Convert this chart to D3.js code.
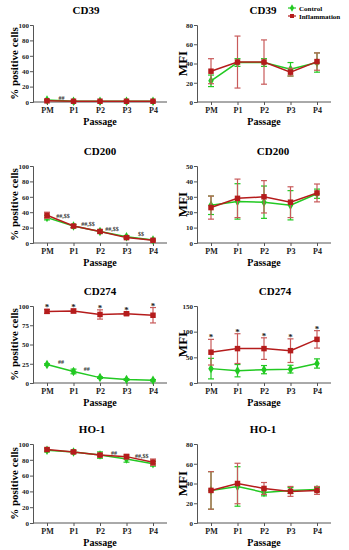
<!DOCTYPE html>
<html>
<head>
<meta charset="utf-8">
<script src="https://cdn.jsdelivr.net/npm/d3@7"></script>
<style>
body{margin:0;background:#fff;}
text{font-family:"Liberation Serif","DejaVu Serif",serif;font-weight:bold;}
</style>
</head>
<body>
<div id="viz"></div>
<script>
// categories
var passages = ['PM','P1','P2','P3','P4'];

// CD39 % positive
var cd39PctCtrl = [2.5, 1, 1, 1, 1];
var cd39PctCtrlErr = [0.5, 0.3, 0.3, 0.3, 0.3];
var cd39PctInfl = [1.5, 1, 1, 1, 1];
var cd39PctInflErr = [0.5, 0.3, 0.3, 0.3, 0.3];
// CD39 MFI
var cd39MfiCtrl = [22, 41, 41, 34, 41];
var cd39MfiCtrlErr = [6, 4, 4, 7, 10];
var cd39MfiInfl = [32, 41.5, 41.5, 31, 42];
var cd39MfiInflErr = [13, 27, 23, 4, 9];

// CD200 % positive
var cd200PctCtrl = [33, 22, 15, 8, 4];
var cd200PctCtrlErr = [3, 2, 2, 1.5, 1];
var cd200PctInfl = [36, 22, 15, 7, 3.5];
var cd200PctInflErr = [4, 2, 2, 1.5, 1];
// CD200 MFI
var cd200MfiCtrl = [24.5, 27, 26.5, 24.5, 32];
var cd200MfiCtrlErr = [6, 11.5, 10.5, 9.5, 3];
var cd200MfiInfl = [23, 29, 30, 26.5, 32.5];
var cd200MfiInflErr = [7.5, 12.5, 10.5, 10, 5.8];

// CD274 % positive
var cd274PctCtrl = [24, 15, 7, 4.5, 3.5];
var cd274PctCtrlErr = [1, 3, 1, 1, 1];
var cd274PctInfl = [93, 93.5, 89, 90, 88];
var cd274PctInflErr = [2.5, 2.5, 6, 2, 10];
// CD274 MFI
var cd274MfiCtrl = [28, 24, 26, 27, 38];
var cd274MfiCtrlErr = [20, 12, 8, 7.5, 9];
var cd274MfiInfl = [60, 67, 67, 63, 85];
var cd274MfiInflErr = [25, 29, 21, 23, 17];

// HO-1 % positive
var ho1PctCtrl = [92, 90, 86, 81, 75];
var ho1PctCtrlErr = [2, 2, 4, 4, 3];
var ho1PctInfl = [93, 90, 86, 84, 77];
var ho1PctInflErr = [2, 2, 2, 3, 4];
// HO-1 MFI
var ho1MfiCtrl = [33, 37, 31, 33, 34];
var ho1MfiCtrlErr = [19, 20, 3.5, 3, 2];
var ho1MfiInfl = [33, 40, 35, 32, 33];
var ho1MfiInflErr = [19, 20.5, 6, 5, 4];

// y ticks
var pctTicks = [0, 20, 40, 60, 80, 100];
var pctTicks274 = [0, 25, 50, 75, 100];
var mfiTicks39 = [0, 20, 40, 60, 80];
var mfiTicks200 = [0, 10, 20, 30, 40, 50];
var mfiTicks274 = [0, 50, 100, 150];
var mfiTicksHO1 = [0, 20, 40, 60, 80];

// significance labels: [position between passages (index), value, text]
var cd39PctMarks = [[0.55, 5, '##']];
var cd200PctMarks = [[0.6, 35, '##,$$'], [1.55, 25, '##,$$'], [2.45, 18, '##,$$'], [3.55, 12, '$$']];
var cd274PctMarks = [[0.53, 27, '##'], [1.5, 18, '##']];
var ho1PctMarks = [[2.53, 89, '##'], [3.58, 85, '##,$$']];

var green = '#22c922', red = '#b51c1c', redErr = '#c85a5a';

var svg = d3.select('#viz').append('svg')
    .attr('width', 349)
    .attr('height', 550);

var rows = [[25, 102], [166, 243], [306, 383], [444, 523]];
var cols = [33, 197];

var panels = [
  {r:0, c:0, tx:53, title:'CD39', ylab:'% positive cells', ticks:pctTicks, ctrl:cd39PctCtrl, ce:cd39PctCtrlErr, infl:cd39PctInfl, ie:cd39PctInflErr, marks:cd39PctMarks},
  {r:0, c:1, tx:66, title:'CD39', ylab:'MFI', ticks:mfiTicks39, ctrl:cd39MfiCtrl, ce:cd39MfiCtrlErr, infl:cd39MfiInfl, ie:cd39MfiInflErr, legend:true},
  {r:1, c:0, tx:67, title:'CD200', ylab:'% positive cells', ticks:pctTicks, ctrl:cd200PctCtrl, ce:cd200PctCtrlErr, infl:cd200PctInfl, ie:cd200PctInflErr, marks:cd200PctMarks},
  {r:1, c:1, tx:76, title:'CD200', ylab:'MFI', ticks:mfiTicks200, ctrl:cd200MfiCtrl, ce:cd200MfiCtrlErr, infl:cd200MfiInfl, ie:cd200MfiInflErr},
  {r:2, c:0, tx:67, title:'CD274', ylab:'% positive cells', ticks:pctTicks274, ctrl:cd274PctCtrl, ce:cd274PctCtrlErr, infl:cd274PctInfl, ie:cd274PctInflErr, marks:cd274PctMarks, stars:true},
  {r:2, c:1, tx:78, title:'CD274', ylab:'MFI', ticks:mfiTicks274, ctrl:cd274MfiCtrl, ce:cd274MfiCtrlErr, infl:cd274MfiInfl, ie:cd274MfiInflErr, stars:true},
  {r:3, c:0, tx:59, title:'HO-1', ylab:'% positive cells', ticks:pctTicks, ctrl:ho1PctCtrl, ce:ho1PctCtrlErr, infl:ho1PctInfl, ie:ho1PctInflErr, marks:ho1PctMarks},
  {r:3, c:1, tx:66, title:'HO-1', ylab:'MFI', ticks:mfiTicksHO1, ctrl:ho1MfiCtrl, ce:ho1MfiCtrlErr, infl:ho1MfiInfl, ie:ho1MfiInflErr}
];

panels.forEach(function(p){
  var x0 = cols[p.c], top = rows[p.r][0], bot = rows[p.r][1];
  var g = svg.append('g');
  var x = d3.scalePoint().domain(passages).range([x0 + 14, x0 + 120]);
  var y = d3.scaleLinear().domain([0, d3.max(p.ticks)]).range([bot, top]);

  // y axis
  var ya = g.append('g').attr('transform', 'translate(' + x0 + ',0)')
    .call(d3.axisLeft(y).tickValues(p.ticks).tickSize(3).tickPadding(1));
  ya.select('.domain').attr('stroke', '#555').attr('stroke-width', 1);
  ya.selectAll('.tick line').attr('stroke', '#555');
  ya.selectAll('text').style('font-size', '7px').attr('fill', '#222');

  // x axis
  var xa = g.append('g').attr('transform', 'translate(0,' + bot + ')')
    .call(d3.axisBottom(x).tickSize(3).tickPadding(2));
  xa.select('.domain').attr('d', 'M' + x0 + ',0H' + (x0 + 134)).attr('stroke', '#555');
  xa.selectAll('.tick line').attr('stroke', '#555');
  xa.selectAll('text').style('font-size', '8px').attr('fill', '#222');

  // labels
  g.append('text').attr('x', x0 + p.tx).attr('y', top - 11).attr('text-anchor', 'middle')
    .style('font-size', '11px').text(p.title);
  g.append('text').attr('x', x0 + 67).attr('y', bot + 23).attr('text-anchor', 'middle')
    .style('font-size', '10px').text('Passage');
  g.append('text')
    .attr('transform', 'translate(' + (x0 - (p.c == 0 ? 15 : 10)) + ',' + ((top + bot) / 2) + ') rotate(-90)')
    .attr('text-anchor', 'middle')
    .style('font-size', p.c == 0 ? '11px' : '13px').text(p.ylab);

  // series
  var series = [
    {v:p.ctrl, e:p.ce, line:green, err:green, shape:d3.symbolDiamond, size:26},
    {v:p.infl, e:p.ie, line:red, err:redErr, shape:d3.symbolSquare, size:30}
  ];
  series.forEach(function(s){
    var pts = passages.map(function(d, i){ return {k:d, v:s.v[i], e:s.e[i]}; });
    var eb = g.append('g').selectAll('g').data(pts).enter().append('g')
      .attr('stroke', s.err).attr('stroke-width', 1.2);
    eb.append('line')
      .attr('x1', function(d){ return x(d.k); }).attr('x2', function(d){ return x(d.k); })
      .attr('y1', function(d){ return y(d.v - d.e); }).attr('y2', function(d){ return y(d.v + d.e); });
    eb.append('line')
      .attr('x1', function(d){ return x(d.k) - 3; }).attr('x2', function(d){ return x(d.k) + 3; })
      .attr('y1', function(d){ return y(d.v + d.e); }).attr('y2', function(d){ return y(d.v + d.e); });
    eb.append('line')
      .attr('x1', function(d){ return x(d.k) - 3; }).attr('x2', function(d){ return x(d.k) + 3; })
      .attr('y1', function(d){ return y(d.v - d.e); }).attr('y2', function(d){ return y(d.v - d.e); });

    g.append('path').datum(pts)
      .attr('fill', 'none').attr('stroke', s.line).attr('stroke-width', 1.5)
      .attr('d', d3.line().x(function(d){ return x(d.k); }).y(function(d){ return y(d.v); }));

    g.append('g').selectAll('path').data(pts).enter().append('path')
      .attr('transform', function(d){ return 'translate(' + x(d.k) + ',' + y(d.v) + ')'; })
      .attr('d', d3.symbol().type(s.shape).size(s.size))
      .attr('fill', s.line);
  });

  // stars above inflammation error bars
  if (p.stars) {
    g.append('g').selectAll('text').data(passages).enter().append('text')
      .attr('x', function(d){ return x(d); })
      .attr('y', function(d, i){ return y(p.infl[i] + p.ie[i]) + 1; })
      .attr('text-anchor', 'middle').style('font-size', '9px').attr('fill', '#222')
      .text('*');
  }

  // significance marks
  if (p.marks) {
    var step = x.step();
    g.append('g').selectAll('text').data(p.marks).enter().append('text')
      .attr('x', function(d){ return x.range()[0] + d[0] * step; })
      .attr('y', function(d){ return y(d[1]) + 2; })
      .attr('text-anchor', 'middle').style('font-size', '6px').attr('fill', '#333')
      .text(function(d){ return d[2]; });
  }

  // legend
  if (p.legend) {
    var lg = g.append('g');
    [['Control', green, d3.symbolDiamond], ['Inflammation', red, d3.symbolSquare]].forEach(function(l, i){
      var ly = 8 + i * 8;
      lg.append('line').attr('x1', 288).attr('x2', 296).attr('y1', ly).attr('y2', ly)
        .attr('stroke', l[1]).attr('stroke-width', 1.2);
      lg.append('path').attr('transform', 'translate(292,' + ly + ')')
        .attr('d', d3.symbol().type(l[2]).size(16)).attr('fill', l[1]);
      lg.append('text').attr('x', 299).attr('y', ly + 2.5).style('font-size', '7px').text(l[0]);
    });
  }
});
</script>
</body>
</html>
